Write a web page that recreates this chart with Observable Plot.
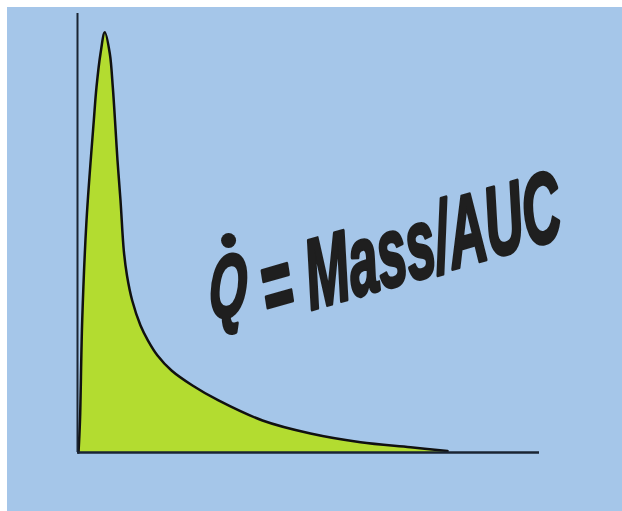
<!DOCTYPE html>
<html><head><meta charset="utf-8">
<script src="https://cdn.jsdelivr.net/npm/d3@7"></script>
<script src="https://cdn.jsdelivr.net/npm/@observablehq/plot@0.6"></script>
<style>
html,body{margin:0;padding:0;background:#fff;}
#chart{position:absolute;left:7px;top:7px;width:615px;height:504px;background:#a5c6e9;}
</style></head><body><div id="chart"></div>
<script>
// indicator-dilution curve (time, concentration)
const time = [0.22,0.54,1.02,1.95,3.53,4.11,4.98,5.91,6.99,7.64,8.12,8.66,9.31,10.02,10.71,11.84,13.64,15.26,17.32,20.35,24.89,30.52,40.04,50.43,61.26,72.08,80.09];
const conc = [0,7.29,30.07,52.85,75.63,83.21,90.89,95.74,90.89,83.21,75.63,66.51,57.40,46.01,40.32,34.62,28.93,25.51,22.10,18.68,15.26,11.85,7.29,4.33,2.35,1.21,0.34];
const symbolText = ["Q"];
const formulaText = ["= Mass/AUC"];

const curve = time.map((t, i) => ({t, c: conc[i]}));
const font = "'Liberation Sans', Arial, sans-serif";
const ink = "#1f1f1f";

const plot = Plot.plot({
  width: 615, height: 504,
  marginLeft: 70, marginRight: 83, marginTop: 6, marginBottom: 59,
  x: {domain: [0, 100], axis: null},
  y: {domain: [0, 100], axis: null},
  style: {background: "transparent", overflow: "visible"},
  marks: [
    Plot.areaY(curve, {x: "t", y: "c", curve: "catmull-rom", fill: "#b3dc30"}),
    Plot.lineY(curve, {x: "t", y: "c", curve: "catmull-rom", stroke: "#111", strokeWidth: 2.5}),
    Plot.ruleX([0], {stroke: "#1a2433", strokeWidth: 2}),
    Plot.ruleY([0], {stroke: "#1a2433", strokeWidth: 2.5}),
    Plot.dot(symbolText, {x: () => 32.7, y: () => 48.3, r: 7.5, fill: ink, stroke: null}),
    Plot.text(symbolText, {x: () => 28.4, y: () => 30.5, text: d => d, rotate: -6,
      textAnchor: "start", lineAnchor: "bottom", fontSize: 88, fontFamily: font,
      fontWeight: "bold", fontStyle: "italic", fill: ink, stroke: ink, strokeWidth: 3.5}),
    Plot.text(formulaText, {x: () => 40.9, y: () => 29.6, text: d => d, rotate: -16,
      textAnchor: "start", lineAnchor: "bottom", fontSize: 98, fontFamily: font,
      fontWeight: "bold", fontStyle: "italic", fill: ink, stroke: ink, strokeWidth: 3.5})
  ]
});
const lengths = new Map([[symbolText[0], 38], [formulaText[0], 310]]);
plot.querySelectorAll("text").forEach(t => {
  const L = lengths.get(t.textContent);
  if (L) {
    t.setAttribute("textLength", L);
    t.setAttribute("lengthAdjust", "spacingAndGlyphs");
    t.style.fontStyle = "italic";
    t.style.fontWeight = "bold";
    t.style.fontFamily = font;
    const tr = t.getAttribute("transform");
    if (tr) t.setAttribute("transform", tr + " skewX(-7)");
  }
});
document.getElementById("chart").appendChild(plot);
</script>
</body></html>
